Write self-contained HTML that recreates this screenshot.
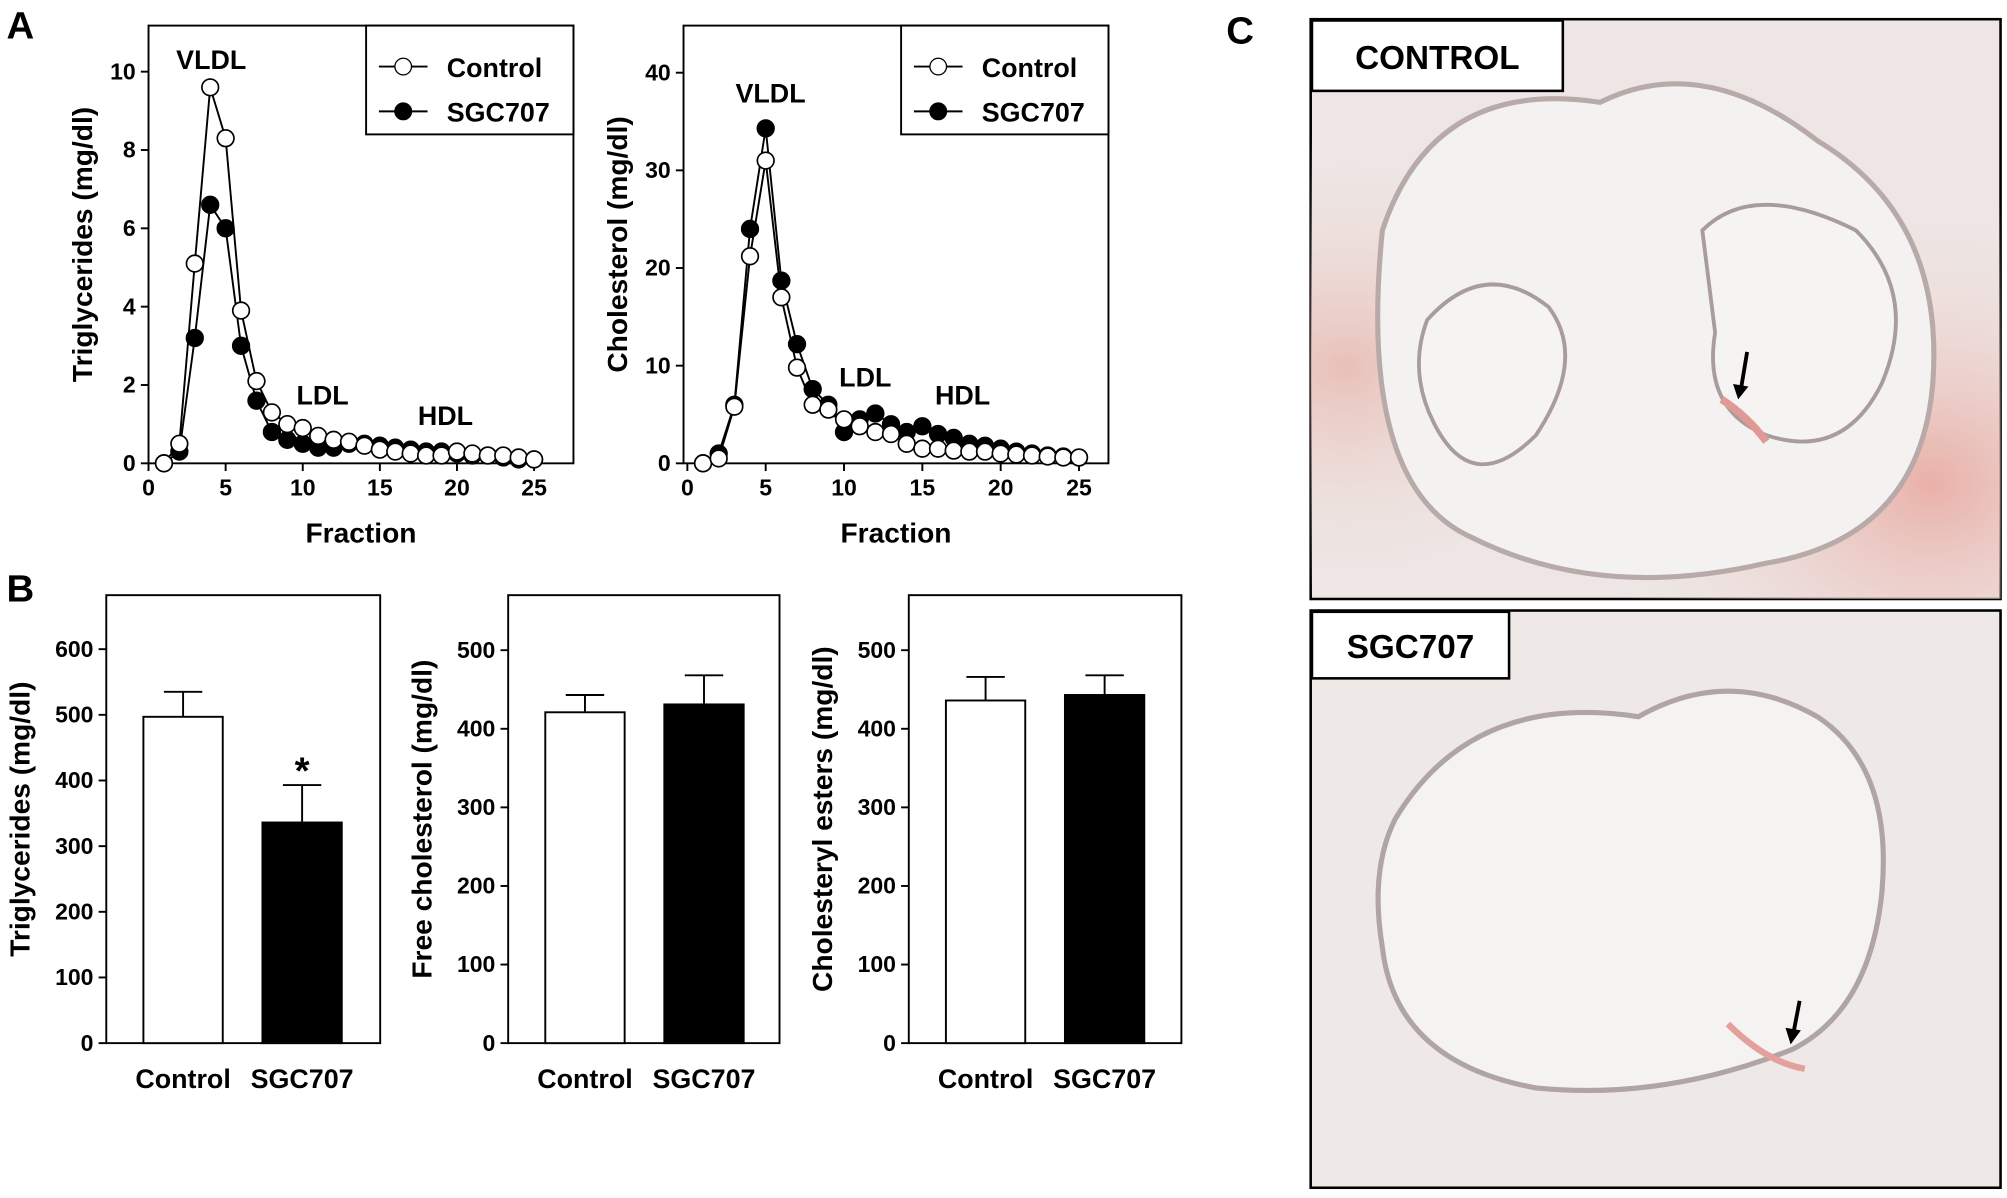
<!DOCTYPE html>
<html><head><meta charset="utf-8">
<style>
html,body{margin:0;padding:0;background:#fff;}
svg{display:block;}
text{font-family:"Liberation Sans",Arial,sans-serif;font-weight:bold;fill:#000;}
</style></head>
<body>
<svg id="s" width="2007" height="1198" viewBox="0 0 1568 936" xmlns="http://www.w3.org/2000/svg">
<defs>
<radialGradient id="pk" cx="0.9" cy="0.8" r="0.5"><stop offset="0" stop-color="#e9b0a8"/><stop offset="1" stop-color="#efe7e5" stop-opacity="0"/></radialGradient>
<radialGradient id="pk2" cx="0.05" cy="0.6" r="0.4"><stop offset="0" stop-color="#e8c0b8"/><stop offset="1" stop-color="#efe7e5" stop-opacity="0"/></radialGradient>
</defs>
<!-- Panel letters -->
<text x="5" y="30" font-size="30">A</text>
<text x="5" y="470" font-size="30">B</text>
<text x="958" y="34" font-size="30">C</text>

<!-- Panel C images -->
<g>
<rect x="1024" y="15" width="539" height="453" fill="#ede6e4" stroke="#000" stroke-width="2"/>
<rect x="1024" y="15" width="539" height="453" fill="url(#pk)"/>
<rect x="1024" y="15" width="539" height="453" fill="url(#pk2)"/>
<path d="M1080 180 Q1120 60 1250 80 Q1330 40 1420 110 Q1520 170 1510 300 Q1500 420 1380 440 Q1250 470 1150 420 Q1060 380 1080 180Z" fill="#f4f2f1" stroke="#b8aaa8" stroke-width="4"/>
<path d="M1115 250 Q1160 200 1210 240 Q1240 280 1200 340 Q1150 390 1120 330 Q1100 290 1115 250Z" fill="#f6f4f3" stroke="#a89c9c" stroke-width="3"/>
<path d="M1330 180 Q1370 140 1450 180 Q1500 230 1470 300 Q1440 360 1380 340 Q1330 320 1340 260Z" fill="#f6f4f3" stroke="#a89c9c" stroke-width="3"/>
<path d="M1345 312 Q1365 325 1380 345" stroke="#e09a96" stroke-width="6" fill="none"/>
<line x1="1365" y1="275" x2="1360" y2="305" stroke="#000" stroke-width="3"/>
<polygon points="1354,300 1366,302 1358,312" fill="#000"/>
<rect x="1025" y="16" width="196" height="55" fill="#fff" stroke="#000" stroke-width="2"/>
<text x="1123" y="54" font-size="26" text-anchor="middle">CONTROL</text>

<rect x="1024" y="477" width="539" height="451" fill="#eee8e6" stroke="#000" stroke-width="2"/>
<path d="M1090 640 Q1150 540 1280 560 Q1350 520 1420 560 Q1480 600 1470 700 Q1460 790 1400 820 Q1300 860 1200 850 Q1090 830 1080 740 Q1070 680 1090 640Z" fill="#f5f3f2" stroke="#b0a4a4" stroke-width="4"/>
<path d="M1350 800 Q1380 830 1410 835" stroke="#e3a09c" stroke-width="5" fill="none"/>
<line x1="1406" y1="782" x2="1401" y2="808" stroke="#000" stroke-width="3"/>
<polygon points="1395,803 1407,805 1399,816" fill="#000"/>
<rect x="1025" y="478" width="154" height="52" fill="#fff" stroke="#000" stroke-width="2"/>
<text x="1102" y="514" font-size="26" text-anchor="middle">SGC707</text>
</g>
<g id="dyn"></g>
</svg>
<script>
const NS="http://www.w3.org/2000/svg",g=document.getElementById('dyn');
function el(t,a,txt){const e=document.createElementNS(NS,t);for(const k in a)e.setAttribute(k,a[k]);if(txt!==undefined)e.textContent=txt;g.appendChild(e);return e;}
function txt(x,y,s,size,anchor,rot){const a={x:x,y:y,'font-size':size,'text-anchor':anchor||'middle'};if(rot)a.transform=`rotate(-90 ${x} ${y})`;return el('text',a,s);}
function lineChart(o){
 const X=v=>o.x0+v*o.dx, Y=v=>o.y0-v*o.dy;
 el('rect',{x:o.bx,y:o.by,width:o.bw,height:o.y0-o.by,fill:'none',stroke:'#000','stroke-width':1.5});
 for(let v=0;v<=25;v+=5){el('line',{x1:X(v),y1:o.y0,x2:X(v),y2:o.y0+6,stroke:'#000','stroke-width':1.5});txt(X(v),o.y0+25,v,18);}
 for(const v of o.yt){el('line',{x1:o.bx-6,y1:Y(v),x2:o.bx,y2:Y(v),stroke:'#000','stroke-width':1.5});txt(o.bx-10,Y(v)+6,v,18,'end');}
 const dr=(d,fill)=>{el('polyline',{points:d.map((v,i)=>X(i+1)+','+Y(v)).join(' '),fill:'none',stroke:'#000','stroke-width':1.5});
  d.forEach((v,i)=>el('circle',{cx:X(i+1),cy:Y(v),r:6.5,fill:fill,stroke:'#000','stroke-width':1.3}));};
 dr(o.s,'#000');dr(o.c,'#fff');
 txt((o.bx+o.bx+o.bw)/2,o.y0+62,'Fraction',22);
 txt(o.ylx,(o.by+o.y0)/2,o.yl,22,'middle',true);
 const lx=o.bx+o.bw-162;
 el('rect',{x:lx,y:o.by,width:162,height:85,fill:'#fff',stroke:'#000','stroke-width':1.5});
 el('line',{x1:lx+10,y1:o.by+32,x2:lx+48,y2:o.by+32,stroke:'#000','stroke-width':1.5});
 el('circle',{cx:lx+29,cy:o.by+32,r:6.5,fill:'#fff',stroke:'#000'});
 txt(lx+63,o.by+40,'Control',21,'start');
 el('line',{x1:lx+10,y1:o.by+67,x2:lx+48,y2:o.by+67,stroke:'#000','stroke-width':1.5});
 el('circle',{cx:lx+29,cy:o.by+67,r:6.5,fill:'#000',stroke:'#000'});
 txt(lx+63,o.by+75,'SGC707',21,'start');
 o.lab.forEach(l=>txt(l[0],l[1],l[2],21));
}
lineChart({bx:116,by:20,bw:332,x0:116,dx:12.05,y0:362,dy:30.6,yt:[0,2,4,6,8,10],ylx:72,yl:'Triglycerides (mg/dl)',
 c:[0,0.5,5.1,9.6,8.3,3.9,2.1,1.3,1.0,0.9,0.7,0.6,0.55,0.45,0.35,0.3,0.25,0.2,0.2,0.3,0.25,0.2,0.2,0.15,0.1],
 s:[0,0.3,3.2,6.6,6.0,3.0,1.6,0.8,0.6,0.5,0.4,0.4,0.5,0.5,0.45,0.4,0.35,0.3,0.3,0.25,0.2,0.2,0.15,0.1,0.1],
 lab:[[165,54,'VLDL'],[252,316,'LDL'],[348,332,'HDL']]});
lineChart({bx:534,by:20,bw:332,x0:537,dx:12.24,y0:362,dy:7.63,yt:[0,10,20,30,40],ylx:490,yl:'Cholesterol (mg/dl)',
 c:[0,0.5,5.8,21.2,31,17,9.8,6,5.5,4.5,3.8,3.2,3,2,1.5,1.5,1.3,1.2,1.2,1,0.9,0.8,0.7,0.6,0.6],
 s:[0,1,6,24,34.3,18.7,12.2,7.6,6,3.2,4.5,5.1,4,3.2,3.8,3,2.6,2,1.8,1.5,1.2,1,0.8,0.7,0.6],
 lab:[[602,80,'VLDL'],[676,302,'LDL'],[752,316,'HDL']]});
function bar(o){
 const Y=v=>815-v*o.dy;
 el('rect',{x:o.bx,y:465,width:o.bw,height:350,fill:'none',stroke:'#000','stroke-width':1.5});
 o.yt.forEach(v=>{el('line',{x1:o.bx-6,y1:Y(v),x2:o.bx,y2:Y(v),stroke:'#000','stroke-width':1.5});txt(o.bx-10,Y(v)+6,v,18,'end');});
 [[o.b1,o.v[0],o.e[0],'#fff'],[o.b2,o.v[1],o.e[1],'#000']].forEach(b=>{
  el('line',{x1:b[0]+31,y1:Y(b[1]),x2:b[0]+31,y2:Y(b[1]+b[2]),stroke:'#000','stroke-width':1.5});
  el('line',{x1:b[0]+16,y1:Y(b[1]+b[2]),x2:b[0]+46,y2:Y(b[1]+b[2]),stroke:'#000','stroke-width':1.5});
  el('rect',{x:b[0],y:Y(b[1]),width:62,height:b[1]*o.dy,fill:b[3],stroke:'#000','stroke-width':1.5});
 });
 txt(o.b1+31,850,'Control',21);txt(o.b2+31,850,'SGC707',21);
 txt(o.ylx,640,o.yl,22,'middle',true);
}
bar({bx:83,bw:214,dy:0.513,yt:[0,100,200,300,400,500,600],b1:112,b2:205,v:[497,336],e:[38,57],ylx:23,yl:'Triglycerides (mg/dl)'});
txt(236,612,'*',30);
bar({bx:397,bw:212,dy:0.614,yt:[0,100,200,300,400,500],b1:426,b2:519,v:[421,431],e:[22,37],ylx:337,yl:'Free cholesterol (mg/dl)'});
bar({bx:710,bw:213,dy:0.614,yt:[0,100,200,300,400,500],b1:739,b2:832,v:[436,443],e:[30,25],ylx:650,yl:'Cholesteryl esters (mg/dl)'});
</script>
</body></html>
